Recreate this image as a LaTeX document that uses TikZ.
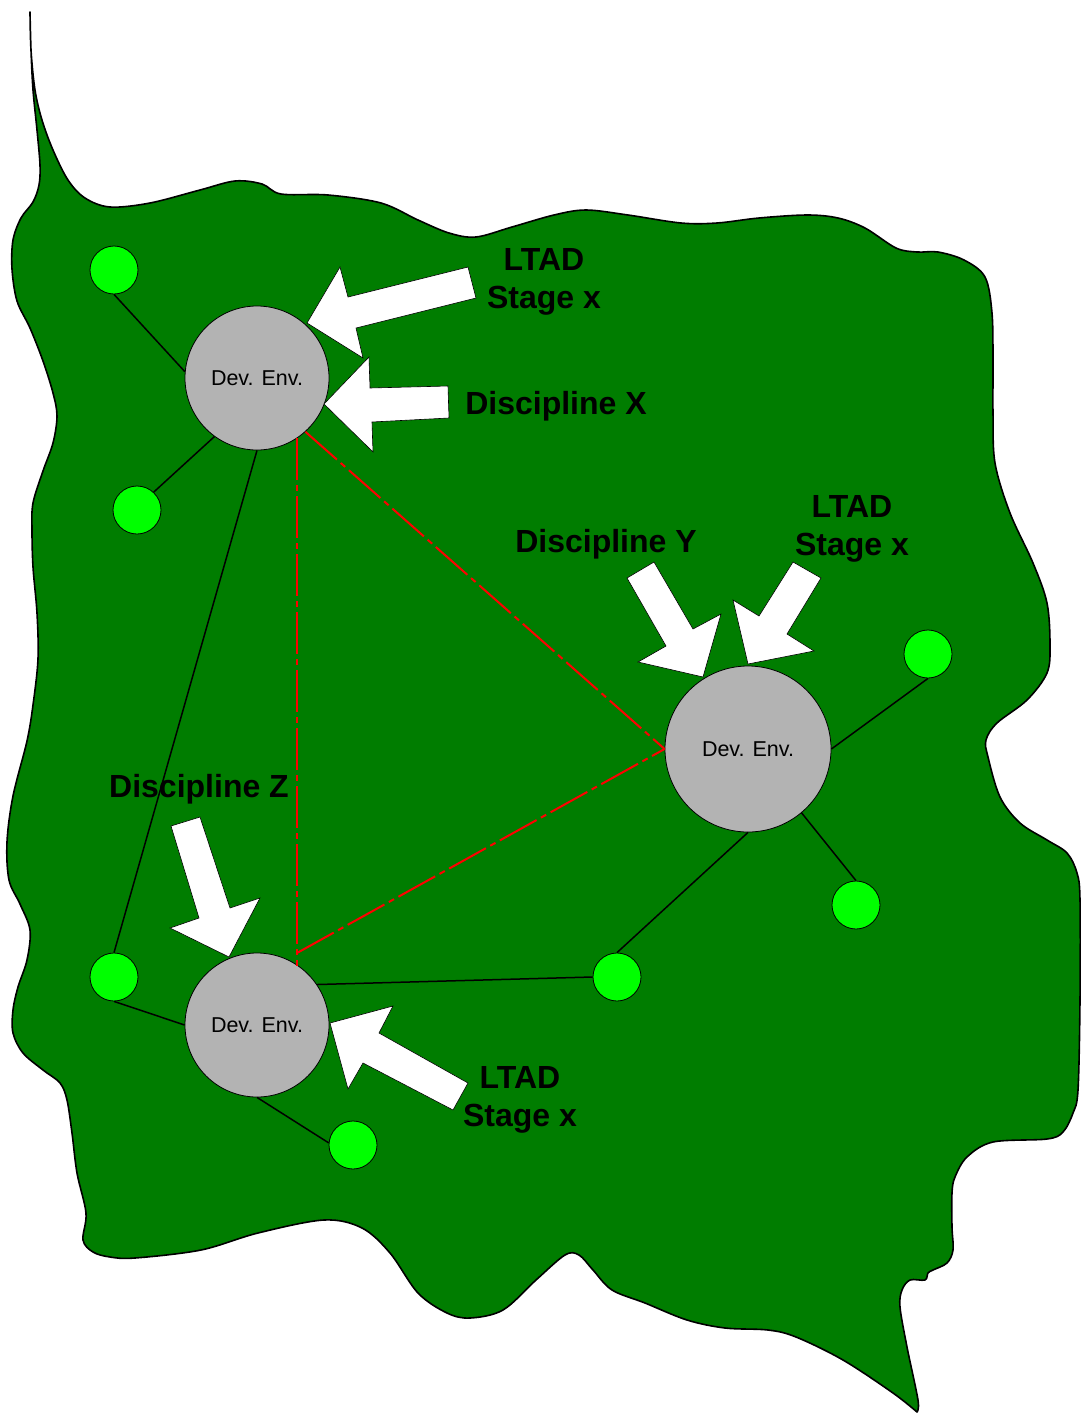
\documentclass[tikz,border=0pt]{standalone}
\usepackage{fontspec}
\setmainfont{Liberation Sans}
\definecolor{landgreen}{RGB}{0,125,0}
\definecolor{leafgreen}{RGB}{0,255,0}
\definecolor{devgray}{RGB}{179,179,179}
\begin{document}
\begin{tikzpicture}[x=1pt,y=-1pt,
  land/.style={fill=landgreen, draw=black, line width=1.6pt, line join=round},
  devenv/.style={circle, fill=devgray, draw=black, line width=0.8pt, minimum size=144pt, inner sep=0pt, font=\fontsize{21.5}{25}\selectfont},
  bigdev/.style={devenv, minimum size=166pt},
  leaf/.style={circle, fill=leafgreen, draw=black, line width=0.8pt, minimum size=48pt, inner sep=0pt},
  link/.style={draw=black, line width=1.5pt},
  redlink/.style={draw=red, line width=2pt, dash pattern=on 42pt off 5pt on 6pt off 5pt},
  blockarrow/.style={fill=white, draw=black, line width=0.6pt, line join=miter},
  biglabel/.style={font=\bfseries\fontsize{32}{38}\selectfont, align=center, inner sep=0pt}
]
\useasboundingbox (0,0) rectangle (1080,1414);

% land outline
\path[land] plot[smooth, tension=0.55] coordinates {
 (30,12) (31,50) (35,90) (42,120) (53,150) (68,180) (85,198) (110,207)
 (150,203) (200,190) (235,181) (262,184) (281,194) (328,195) (381,203)
 (418,220) (449,233) (476,237) (512,227) (554,215) (586,210) (628,215)
 (681,223) (717,223) (759,218) (807,215) (838,218) (865,228) (896,248)
 (917,252) (938,252) (964,260) (985,277) (992,313) (993,363) (993,413)
 (995,463) (1010,513) (1033,563) (1047,603) (1050,645) (1047,673) (1027,700)
 (997,723) (986,740) (988,757) (1000,797) (1020,823) (1047,840) (1067,853)
 (1077,873) (1080,900) (1080,1000) (1078,1090) (1073,1113) (1063,1132)
 (1047,1139) (993,1142) (967,1157) (955,1177) (952,1193) (952,1227)
 (953,1250) (947,1263) (933,1270) (928,1273) (925,1280) (910,1280)
 (902,1290) (900,1307) (907,1347) (918,1400) (917,1412)}
 -- plot[smooth, tension=0.55] coordinates {
 (917,1412) (893,1393) (843,1360) (796,1337) (768,1330) (725,1328) (687,1320)
 (645,1303) (612,1290) (593,1270) (579,1255) (565,1255) (536,1280) (503,1310)
 (470,1318) (447,1313) (418,1293) (390,1253) (362,1228) (324,1220) (258,1233)
 (201,1250) (135,1258) (110,1257) (93,1252) (83,1240) (86,1213) (77,1173)
 (72,1133) (67,1100) (60,1083) (43,1070) (23,1053) (13,1033) (13,1010)
 (18,987) (27,960) (30,930) (20,904) (9,880) (7,842) (13,796) (27,741)
 (33,705) (38,659) (37,613) (33,567) (32,530) (33,503) (43,471) (53,443)
 (57,416) (53,393) (43,361) (30,328) (17,301) (12,269) (13,240) (21,218)
 (33,202) (39,185) (40,165) (37,130) (33,90) (31,50) (30,12)} -- cycle;

% nodes
\node[devenv] (c1) at (257,378) {Dev. Env.};
\node[bigdev] (c2) at (748,749) {Dev. Env.};
\node[devenv] (c3) at (257,1025) {Dev. Env.};
\node[leaf] (a) at (114,270) {};
\node[leaf] (b) at (137,510) {};
\node[leaf] (c) at (928,654) {};
\node[leaf] (d) at (856,905) {};
\node[leaf] (e) at (114,977) {};
\node[leaf] (f) at (617,977) {};
\node[leaf] (g) at (353,1145) {};
\coordinate (r1) at (297,438);
\coordinate (r2) at (297,966);
\coordinate (r3) at (297,953);

% connectors
\draw[link] (a.south) -- (c1.175);
\draw[link] (b.47) -- (c1.234);
\draw[link] (c1.south) -- (e.north);
\draw[link] (e.south) -- (c3.west);
\draw[link] (c3.south) -- (g.175);
\draw[link] (c3.34) -- (f.west);
\draw[link] (f.north) -- (c2.south);
\draw[link] (c2.east) -- (c.south);
\draw[link] (c2.310) -- (d.north);

\draw[redlink] (r1) -- (r2);
\draw[redlink] (c1.312) -- (c2.west);
\draw[redlink] (r3) -- (c2.west);

% block arrows
\draw[blockarrow] (307,323) -- (340,267) -- (348,297) -- (468,267) -- (476,298) -- (356,328) -- (363,358) -- cycle;
\draw[blockarrow] (324,404) -- (369,357) -- (370,388) -- (448,386) -- (449,418) -- (372,422) -- (373,452) -- cycle;
\draw[blockarrow] (703,677) -- (638,662) -- (666,646) -- (627,578) -- (654,562) -- (693,629) -- (721,614) -- cycle;
\draw[blockarrow] (748,664) -- (733,600) -- (759,616) -- (793,562) -- (821,578) -- (787,634) -- (814,651) -- cycle;
\draw[blockarrow] (229,957) -- (170,928) -- (199,918) -- (171,826) -- (200,817) -- (230,908) -- (260,898) -- cycle;
\draw[blockarrow] (330,1023) -- (393,1006) -- (379,1033) -- (468,1083) -- (453,1110) -- (363,1063) -- (348,1089) -- cycle;

% labels
\node[biglabel, anchor=north] (l1) at (544,248) {LTAD\\Stage x};
\node[biglabel, anchor=base] (l2) at (556,414) {Discipline X};
\node[biglabel, anchor=base] (l3) at (606,552) {Discipline Y};
\node[biglabel, anchor=north] (l4) at (852,495) {LTAD\\Stage x};
\node[biglabel, anchor=base] (l5) at (199,797) {Discipline Z};
\node[biglabel, anchor=north] (l6) at (520,1066) {LTAD\\Stage x};
\end{tikzpicture}
\end{document}
